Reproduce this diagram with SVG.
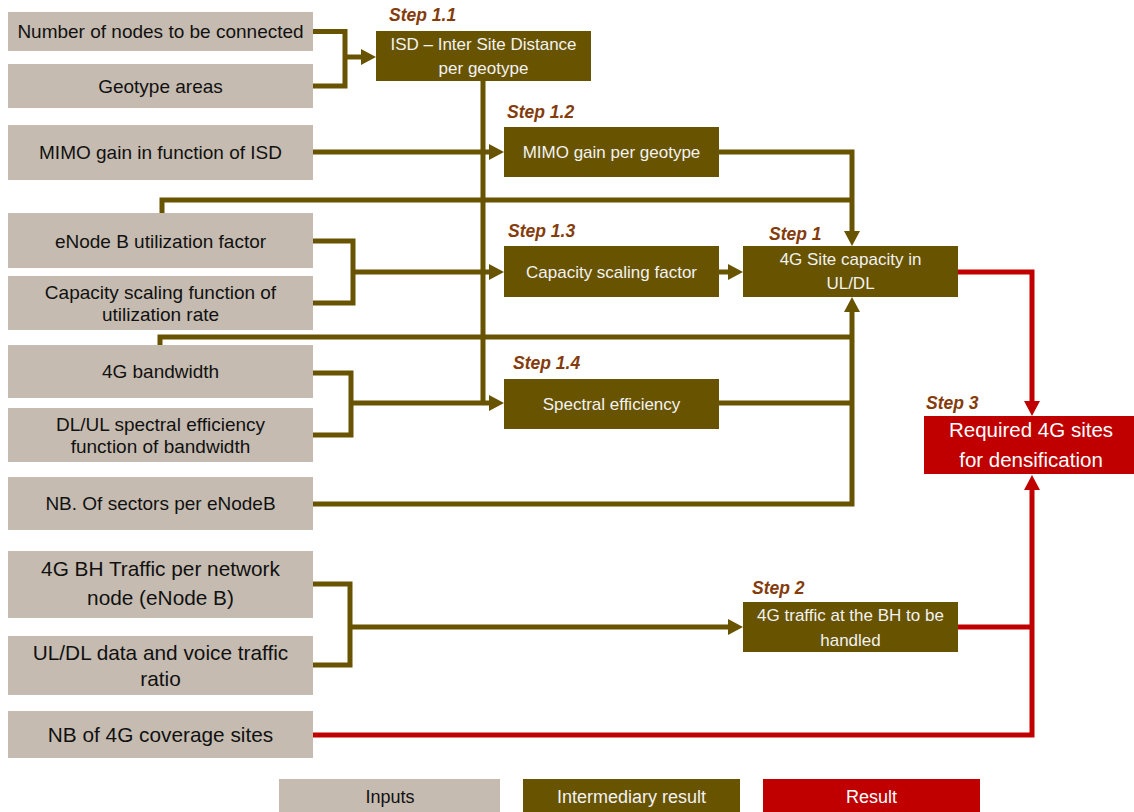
<svg xmlns="http://www.w3.org/2000/svg" width="1134" height="812" viewBox="0 0 1134 812">
<style>
.in{fill:#C5BBB0}
.mid{fill:#685300}
.res{fill:#C00000}
.tin{font-family:"Liberation Sans",Arial,sans-serif;font-size:19px;fill:#111;text-anchor:middle}
.tin2{font-family:"Liberation Sans",Arial,sans-serif;font-size:20.8px;fill:#111;text-anchor:middle}
.tmid{font-family:"Liberation Sans",Arial,sans-serif;font-size:17px;fill:#F2F2F2;text-anchor:middle}
.tres{font-family:"Liberation Sans",Arial,sans-serif;font-size:20.5px;fill:#FFFFFF;text-anchor:middle}
.step{font-family:"Liberation Sans",Arial,sans-serif;font-size:17.5px;font-weight:bold;font-style:italic;fill:#843C0C}
.tleg{font-family:"Liberation Sans",Arial,sans-serif;font-size:18px;text-anchor:middle}
.c{fill:none;stroke:#685300;stroke-width:5}
.r{fill:none;stroke:#C00000;stroke-width:5}
</style>
<defs>
<marker id="ao" markerUnits="userSpaceOnUse" markerWidth="15" markerHeight="16" refX="3" refY="8" orient="auto"><path d="M0,0 L15,8 L0,16 z" fill="#685300"/></marker>
<marker id="ar" markerUnits="userSpaceOnUse" markerWidth="15" markerHeight="16" refX="3" refY="8" orient="auto"><path d="M0,0 L15,8 L0,16 z" fill="#C00000"/></marker>
</defs>
<rect width="1134" height="812" fill="#FFFFFF"/>
<g id="connectors">
<path class="c" d="M313,31.5 H345 V86 H313"/>
<path class="c" d="M345,57 H364" marker-end="url(#ao)"/>
<path class="c" d="M483,81 V403"/>
<path class="c" d="M313,152 H492" marker-end="url(#ao)"/>
<path class="c" d="M719,152 H852 V234" marker-end="url(#ao)"/>
<path class="c" d="M162,213 V200 H852"/>
<path class="c" d="M313,241 H353 V303 H313"/>
<path class="c" d="M353,272 H492" marker-end="url(#ao)"/>
<path class="c" d="M719,272 H731" marker-end="url(#ao)"/>
<path class="c" d="M160,345 V337 H852"/>
<path class="c" d="M313,373 H351 V435 H313"/>
<path class="c" d="M351,403 H492" marker-end="url(#ao)"/>
<path class="c" d="M719,403 H852"/>
<path class="c" d="M313,504 H852 V309" marker-end="url(#ao)"/>
<path class="c" d="M313,584 H350 V665 H313"/>
<path class="c" d="M350,627 H731" marker-end="url(#ao)"/>
<path class="r" d="M958,272 H1032 V404" marker-end="url(#ar)"/>
<path class="r" d="M958,627 H1032"/>
<path class="r" d="M313,735 H1032 V487" marker-end="url(#ar)"/>
</g>
<g id="n1"><rect class="in" x="8" y="12" width="305" height="39"/><text class="tin" x="160.5" y="38">Number of nodes to be connected</text></g>
<g id="n2"><rect class="in" x="8" y="64" width="305" height="44"/><text class="tin" x="160.5" y="93">Geotype areas</text></g>
<g id="n3"><rect class="in" x="8" y="125" width="305" height="55"/><text class="tin" x="160.5" y="159">MIMO gain in function of ISD</text></g>
<g id="n4"><rect class="in" x="8" y="213" width="305" height="55"/><text class="tin" x="160.5" y="248">eNode B utilization factor</text></g>
<g id="n5"><rect class="in" x="8" y="276" width="305" height="54"/><text class="tin" x="160.5" y="299">Capacity scaling function of</text><text class="tin" x="160.5" y="321">utilization rate</text></g>
<g id="n6"><rect class="in" x="8" y="345" width="305" height="53"/><text class="tin" x="160.5" y="378">4G bandwidth</text></g>
<g id="n7"><rect class="in" x="8" y="408" width="305" height="54"/><text class="tin" x="160.5" y="431">DL/UL spectral efficiency</text><text class="tin" x="160.5" y="453">function of bandwidth</text></g>
<g id="n8"><rect class="in" x="8" y="477" width="305" height="53"/><text class="tin" x="160.5" y="510">NB. Of sectors per eNodeB</text></g>
<g id="n9"><rect class="in" x="8" y="551" width="305" height="67"/><text class="tin2" x="160.5" y="576">4G BH Traffic per network</text><text class="tin2" x="160.5" y="605">node (eNode B)</text></g>
<g id="n10"><rect class="in" x="8" y="636" width="305" height="59"/><text class="tin2" x="160.5" y="660">UL/DL data and voice traffic</text><text class="tin2" x="160.5" y="686">ratio</text></g>
<g id="n11"><rect class="in" x="8" y="711" width="305" height="47"/><text class="tin2" x="160.5" y="742">NB of 4G coverage sites</text></g>
<g id="s11"><text class="step" x="389" y="21">Step 1.1</text><rect class="mid" x="376" y="31" width="215" height="50"/><text class="tmid" x="483.5" y="50">ISD – Inter Site Distance</text><text class="tmid" x="483.5" y="74">per geotype</text></g>
<g id="s12"><text class="step" x="507" y="118">Step 1.2</text><rect class="mid" x="504" y="127" width="215" height="50"/><text class="tmid" x="611.5" y="158">MIMO gain per geotype</text></g>
<g id="s13"><text class="step" x="508" y="237">Step 1.3</text><rect class="mid" x="504" y="246" width="215" height="51"/><text class="tmid" x="611.5" y="278">Capacity scaling factor</text></g>
<g id="s14"><text class="step" x="513" y="369">Step 1.4</text><rect class="mid" x="504" y="379" width="215" height="50"/><text class="tmid" x="611.5" y="410">Spectral efficiency</text></g>
<g id="s1"><text class="step" x="769" y="240">Step 1</text><rect class="mid" x="743" y="246" width="215" height="51"/><text class="tmid" x="850.5" y="265">4G Site capacity in</text><text class="tmid" x="850.5" y="289">UL/DL</text></g>
<g id="s2"><text class="step" x="752" y="594">Step 2</text><rect class="mid" x="743" y="602" width="215" height="50"/><text class="tmid" x="850.5" y="621">4G traffic at the BH to be</text><text class="tmid" x="850.5" y="646">handled</text></g>
<g id="s3"><text class="step" x="926" y="409">Step 3</text><rect class="res" x="924" y="416" width="210" height="58"/><text class="tres" x="1031" y="437">Required 4G sites</text><text class="tres" x="1031" y="467">for densification</text></g>
<g id="legend">
<rect class="in" x="279" y="779" width="221" height="33"/><text class="tleg" x="390" y="803" fill="#111">Inputs</text>
<rect class="mid" x="523" y="779" width="217" height="33"/><text class="tleg" x="631.5" y="803" fill="#F2F2F2">Intermediary result</text>
<rect class="res" x="763" y="779" width="217" height="33"/><text class="tleg" x="871.5" y="803" fill="#FFFFFF">Result</text>
</g>
</svg>
